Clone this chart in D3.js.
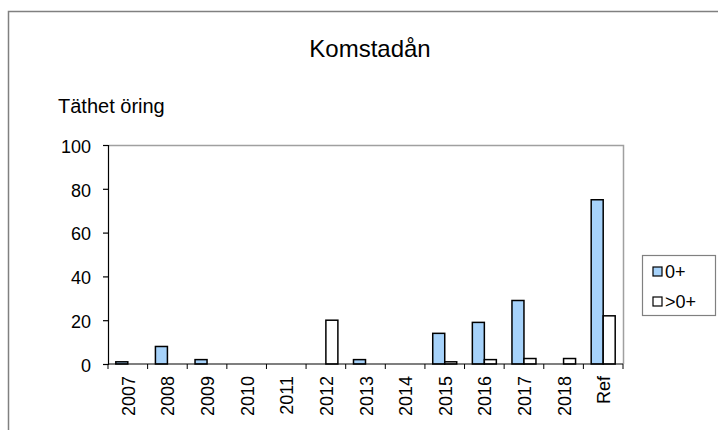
<!DOCTYPE html>
<html>
<head>
<meta charset="utf-8">
<script src="https://cdnjs.cloudflare.com/ajax/libs/d3/7.8.5/d3.min.js"></script>
<style>
body { margin: 0; background: #fff; }
svg { display: block; font-family: "Liberation Sans", Arial, sans-serif; }
</style>
</head>
<body>
<script>
var years = ["2007", "2008", "2009", "2010", "2011", "2012", "2013", "2014", "2015", "2016", "2017", "2018", "Ref"];
var seriesNames = ["0+", ">0+"];
var valsYoung = [1, 8, 2, 0, 0, 0, 2, 0, 14, 19, 29, 0, 75];
var valsOlder = [0, 0, 0, 0, 0, 20, 0, 0, 1, 2, 2.5, 2.5, 22];
var yTicks = [0, 20, 40, 60, 80, 100];
var colors = ["#a6d2fa", "#ffffff"];

var width = 718, height = 430;
var margin = {top: 145, right: 95, bottom: 66, left: 108};
var plotW = width - margin.left - margin.right;
var plotH = height - margin.top - margin.bottom;

var svg = d3.select("body").append("svg")
	.attr("width", width)
	.attr("height", height);

// outer chart frame
svg.append("rect")
	.attr("x", 8.5).attr("y", 11.5)
	.attr("width", 730).attr("height", 440)
	.attr("fill", "none")
	.attr("stroke", "#808080")
	.attr("stroke-width", 1.5);

svg.append("text")
	.attr("x", 370).attr("y", 57)
	.attr("text-anchor", "middle")
	.attr("font-size", 24)
	.text("Komstadån");

svg.append("text")
	.attr("x", 58).attr("y", 113)
	.attr("font-size", 20)
	.text("Täthet öring");

var g = svg.append("g")
	.attr("transform", "translate(" + margin.left + "," + margin.top + ")");

var x = d3.scaleBand().domain(years).range([0, plotW]);
var xSub = d3.scaleBand().domain(seriesNames)
	.range([x.bandwidth() / 2 - 12, x.bandwidth() / 2 + 12]);
var y = d3.scaleLinear().domain([0, 100]).range([plotH, 0]);

// plot area border (top/right gray)
g.append("path")
	.attr("d", "M0.5,0.5H" + (plotW + 0.5) + "V" + plotH)
	.attr("fill", "none")
	.attr("stroke", "#a0a0a0")
	.attr("stroke-width", 1.5);

var data = years.map(function(yr, i) {
	return {year: yr, vals: [valsYoung[i], valsOlder[i]]};
});

var grp = g.selectAll(".grp")
	.data(data)
	.enter().append("g")
	.attr("transform", function(d) { return "translate(" + x(d.year) + ",0)"; });

grp.selectAll("rect")
	.data(function(d) {
		return d.vals.map(function(v, j) { return {s: seriesNames[j], v: v, j: j}; });
	})
	.enter().filter(function(d) { return d.v > 0; })
	.append("rect")
	.attr("x", function(d) { return xSub(d.s); })
	.attr("y", function(d) { return y(d.v); })
	.attr("width", xSub.bandwidth())
	.attr("height", function(d) { return plotH - y(d.v); })
	.attr("fill", function(d) { return colors[d.j]; })
	.attr("stroke", "#000")
	.attr("stroke-width", 1.5);

// y axis
var yAxis = g.append("g")
	.call(d3.axisLeft(y).tickValues(yTicks).tickSize(5).tickPadding(12));
yAxis.selectAll("text")
	.attr("font-size", 18)
	.attr("dy", "0.4em")
	.attr("fill", "#000")
	.attr("font-family", "Liberation Sans, Arial, sans-serif");
yAxis.selectAll("line, path").attr("stroke", "#000").attr("stroke-width", 1.2);

// x axis: ticks at category boundaries
var xAxisG = g.append("g").attr("transform", "translate(0," + plotH + ")");
xAxisG.append("line")
	.attr("x1", 0).attr("x2", plotW)
	.attr("stroke", "#000").attr("stroke-width", 1.2);
xAxisG.selectAll(".tk")
	.data(years.concat(["end"]))
	.enter().append("line")
	.attr("x1", function(d, i) { return i * x.step(); })
	.attr("x2", function(d, i) { return i * x.step(); })
	.attr("y1", 0).attr("y2", 5)
	.attr("stroke", "#000");
xAxisG.selectAll(".lbl")
	.data(years)
	.enter().append("text")
	.attr("transform", function(d) {
		return "translate(" + (x(d) + x.bandwidth() / 2 + 7) + ",12) rotate(-90)";
	})
	.attr("text-anchor", "end")
	.attr("font-size", 18)
	.text(function(d) { return d; });

// legend
var lg = svg.append("g").attr("transform", "translate(642,255)");
lg.append("rect")
	.attr("x", 0.5).attr("y", 0.5)
	.attr("width", 73).attr("height", 60)
	.attr("fill", "#fff")
	.attr("stroke", "#808080")
	.attr("stroke-width", 1.2);
var items = lg.selectAll(".item")
	.data(seriesNames)
	.enter().append("g")
	.attr("transform", function(d, i) { return "translate(11," + (12 + i * 30) + ")"; });
items.append("rect")
	.attr("width", 9).attr("height", 9)
	.attr("fill", function(d, i) { return colors[i]; })
	.attr("stroke", "#000")
	.attr("stroke-width", 1.2);
items.append("text")
	.attr("x", 12).attr("y", 11)
	.attr("font-size", 18)
	.text(function(d) { return d; });
</script>
</body>
</html>
